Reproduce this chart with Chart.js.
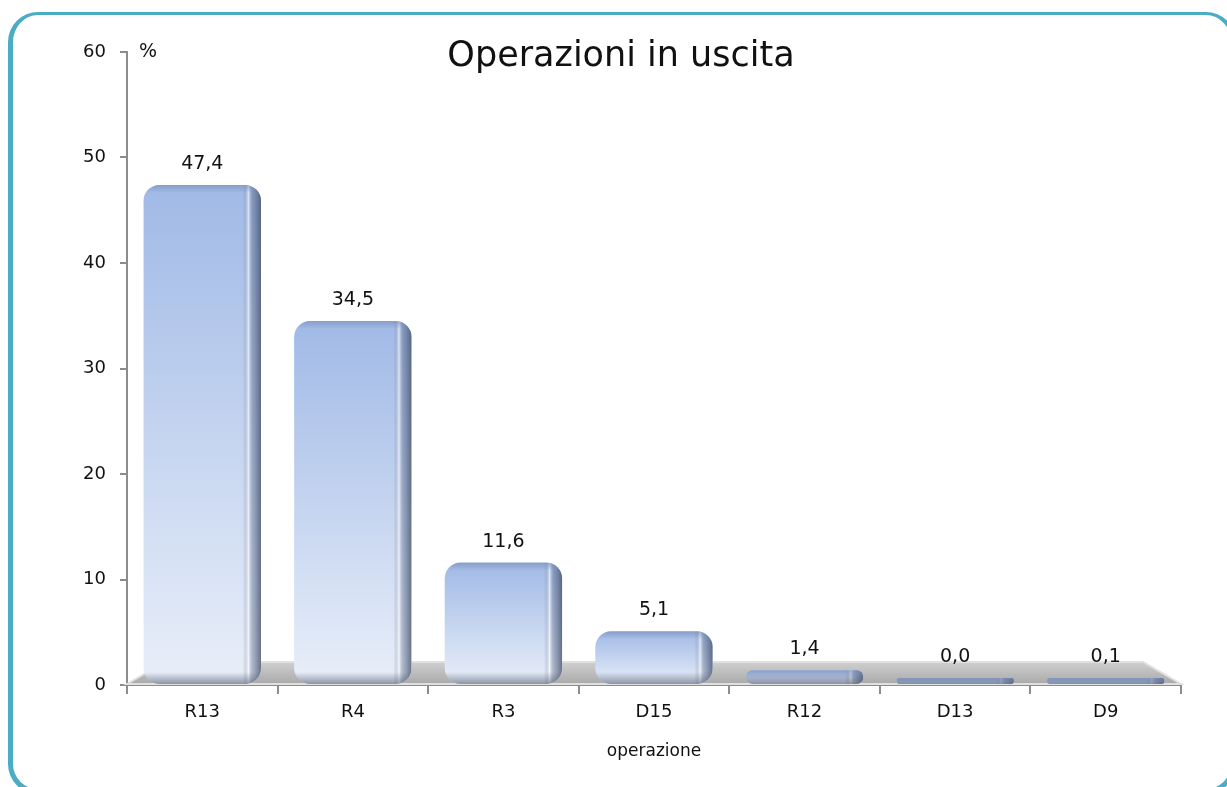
<!DOCTYPE html>
<html>
<head>
<meta charset="utf-8">
<script src="https://cdn.jsdelivr.net/npm/chart.js@4"></script>
<style>
html, body { margin: 0; padding: 0; background: #fff; overflow: hidden; }
#wrap { position: relative; width: 1227px; height: 787px; overflow: hidden; }
#cornice { position: absolute; left: 8px; top: 12px; width: 1228px; height: 782px; border: 5px solid #4bacc6; border-top-width: 3px; border-radius: 30px; box-sizing: border-box; }
#grafico { position: absolute; left: 0; top: 0; }
</style>
</head>
<body>
<div id="wrap">
  <div id="cornice"></div>
  <canvas id="grafico" width="1227" height="787"></canvas>
</div>
<script>
const operazioni = ['R13', 'R4', 'R3', 'D15', 'R12', 'D13', 'D9'];
const percentuali = [47.4, 34.5, 11.6, 5.1, 1.4, 0.0, 0.1];
const titolo = 'Operazioni in uscita';
const titoloAsseX = 'operazione';
const unitaY = '%';

const FONT = "'DejaVu Sans', sans-serif";

// pavimento grigio in prospettiva sotto le barre
const pavimento = {
    id: 'pavimento',
    beforeDatasetsDraw(chart) {
        const { ctx, chartArea: a } = chart;
        ctx.save();
        ctx.beginPath();
        ctx.moveTo(a.left, a.bottom - 1);
        ctx.lineTo(a.left + 38, a.bottom - 23);
        ctx.lineTo(a.right - 38, a.bottom - 23);
        ctx.lineTo(a.right, a.bottom - 1);
        ctx.closePath();
        const g = ctx.createLinearGradient(0, a.bottom - 23, 0, a.bottom);
        g.addColorStop(0, '#cfcfcf');
        g.addColorStop(1, '#a8a8a8');
        ctx.fillStyle = g;
        ctx.fill();
        ctx.strokeStyle = '#e0e0e0';
        ctx.lineWidth = 2;
        ctx.stroke();
        ctx.restore();
    }
};

// ombreggiatura laterale, etichette dei valori, titolo e "%"
const rifiniture = {
    id: 'rifiniture',
    afterDatasetsDraw(chart) {
        const { ctx } = chart;
        const meta = chart.getDatasetMeta(0);
        ctx.save();
        meta.data.forEach((bar) => {
            const w = bar.width, x0 = bar.x - w / 2, x1 = bar.x + w / 2;
            const top = Math.min(bar.y, bar.base), bot = Math.max(bar.y, bar.base);
            const h = bot - top;
            if (h < 3) return;
            ctx.save();
            ctx.beginPath();
            ctx.roundRect(x0, top, w, h, Math.min(16, h / 2));
            ctx.clip();
            const gs = ctx.createLinearGradient(x1 - 18, 0, x1, 0);
            gs.addColorStop(0, 'rgba(70,85,115,0)');
            gs.addColorStop(0.3, 'rgba(255,255,255,0.6)');
            gs.addColorStop(0.5, 'rgba(90,105,135,0.4)');
            gs.addColorStop(1, 'rgba(60,72,98,0.75)');
            ctx.fillStyle = gs;
            ctx.fillRect(x1 - 18, top, 18, h);
            const gb = ctx.createLinearGradient(0, bot - 12, 0, bot);
            gb.addColorStop(0, 'rgba(80,90,110,0)');
            gb.addColorStop(1, 'rgba(80,90,110,0.6)');
            ctx.fillStyle = gb;
            ctx.fillRect(x0, bot - 12, w, 12);
            const gt = ctx.createLinearGradient(0, top, 0, top + 8);
            gt.addColorStop(0, 'rgba(120,140,180,0.6)');
            gt.addColorStop(1, 'rgba(120,140,180,0)');
            ctx.fillStyle = gt;
            ctx.fillRect(x0, top, w, 8);
            ctx.restore();
        });

        ctx.fillStyle = '#111';
        ctx.font = '19px ' + FONT;
        ctx.textAlign = 'center';
        ctx.textBaseline = 'alphabetic';
        meta.data.forEach((bar, i) => {
            const testo = percentuali[i].toFixed(1).replace('.', ',');
            ctx.fillText(testo, bar.x, Math.min(bar.y, bar.base) - 16);
        });

        ctx.font = '35px ' + FONT;
        ctx.textBaseline = 'middle';
        ctx.fillText(titolo, 621, 57);

        ctx.font = '19px ' + FONT;
        ctx.textAlign = 'left';
        ctx.fillText(unitaY, 139, 52);
        ctx.restore();
    }
};

new Chart(document.getElementById('grafico'), {
    type: 'bar',
    data: {
        labels: operazioni,
        datasets: [{
            data: percentuali,
            backgroundColor: (c) => {
                const chart = c.chart, a = chart.chartArea;
                if (!a || c.type !== 'data') return '#b4c7ec';
                const top = Math.min(chart.scales.y.getPixelForValue(c.parsed.y), a.bottom - 8);
                const g = chart.ctx.createLinearGradient(0, top, 0, a.bottom);
                g.addColorStop(0, '#a0b9e6');
                g.addColorStop(1, '#e9eff9');
                return g;
            },
            borderWidth: 0,
            borderRadius: 16,
            borderSkipped: false,
            minBarLength: 7,
            barPercentage: 0.78,
            categoryPercentage: 1
        }]
    },
    options: {
        responsive: false,
        animation: false,
        layout: { padding: { top: 52, right: 46, left: 0, bottom: 21 } },
        plugins: {
            legend: { display: false },
            tooltip: { enabled: false },
            title: { display: false }
        },
        scales: {
            x: {
                grid: { offset: true, drawOnChartArea: false, tickLength: 9, color: '#8c8c8c', lineWidth: 2 },
                border: { color: '#8c8c8c', width: 2 },
                ticks: { color: '#111', font: { family: FONT, size: 18 }, padding: 8 },
                title: { display: true, text: titoloAsseX, color: '#111', font: { family: FONT, size: 17 }, padding: { top: 10 } },
                afterFit: (s) => { s.height = 81; }
            },
            y: {
                min: 0,
                max: 60,
                ticks: { stepSize: 10, color: '#111', font: { family: FONT, size: 18 }, padding: 14 },
                grid: { drawOnChartArea: false, tickLength: 7, color: '#8c8c8c', lineWidth: 2 },
                border: { color: '#8c8c8c', width: 2 },
                afterFit: (s) => { s.width = 127; }
            }
        }
    },
    plugins: [pavimento, rifiniture]
});
</script>
</body>
</html>
